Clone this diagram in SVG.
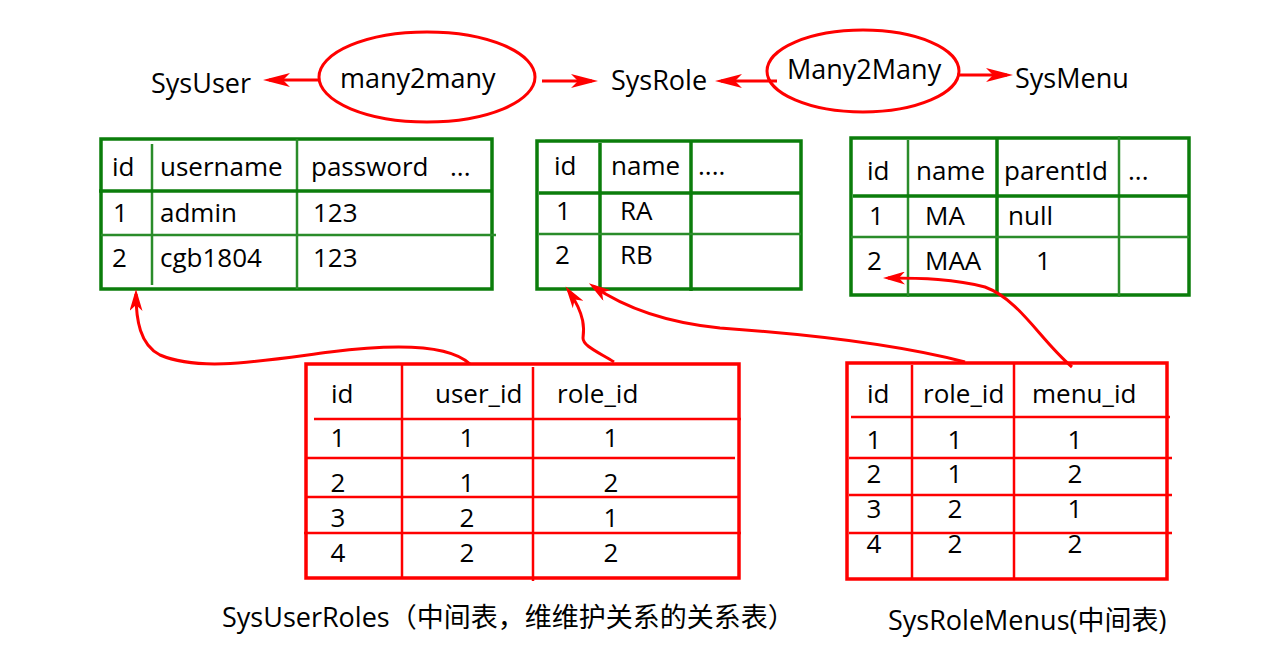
<svg xmlns="http://www.w3.org/2000/svg" width="1288" height="659" viewBox="0 0 1288 659">
<style>
text{font-family:"Open Sans","Noto Sans CJK SC",sans-serif;fill:#000}
.t{font-size:26px}
.lbl{font-size:27px}
.c{text-anchor:middle}
.gout{fill:none;stroke:#0b7d0b;stroke-width:3.5}
.gin{fill:none;stroke:#2a8c2a;stroke-width:2.5}
.rout{fill:none;stroke:#ff0000;stroke-width:3.5}
.rin{fill:none;stroke:#ff0000;stroke-width:2.5}
.ell{fill:none;stroke:#ff0000;stroke-width:3}
.con{fill:none;stroke:#ff0000;stroke-width:3}
</style>
<defs>
<marker id="ah" markerUnits="userSpaceOnUse" markerWidth="27" markerHeight="14" viewBox="0 0 27 14" refX="21" refY="7" orient="auto"><path d="M0,0 L27,7 L0,14 L7,7 z" fill="#ff0000"/></marker>
<marker id="ahs" markerUnits="userSpaceOnUse" markerWidth="22" markerHeight="13" viewBox="0 0 22 13" refX="17" refY="6.5" orient="auto"><path d="M0,0 L22,6.5 L0,13 L6,6.5 z" fill="#ff0000"/></marker>
</defs>
<rect width="1288" height="659" fill="#fff"/>

<g id="sysuser"><text class="lbl" x="151" y="93">SysUser</text></g>
<g id="many2many-1"><ellipse class="ell" cx="427" cy="77" rx="108" ry="45"/><text class="lbl" x="340" y="88">many2many</text></g>
<g id="sysrole"><text class="lbl" x="611" y="90">SysRole</text></g>
<g id="many2many-2"><ellipse class="ell" cx="863" cy="71" rx="96" ry="41"/><text class="lbl" x="787" y="79">Many2Many</text></g>
<g id="sysmenu"><text class="lbl" x="1015" y="88">SysMenu</text></g>

<g id="table-sysuser">
<rect class="gout" x="101" y="139" width="391" height="150"/>
<line class="gin" x1="152" y1="144" x2="152" y2="285"/>
<line class="gin" x1="297" y1="139" x2="297" y2="289"/>
<line class="gout" x1="99" y1="191" x2="492" y2="191"/>
<line class="gin" x1="101" y1="235" x2="496" y2="235"/>
<text class="t" x="112" y="176">id</text>
<text class="t" x="160" y="176">username</text>
<text class="t" x="311" y="176">password</text>
<text class="t" x="450" y="176">...</text>
<text class="t" x="113" y="222">1</text>
<text class="t" x="160" y="222">admin</text>
<text class="t" x="313" y="222">123</text>
<text class="t" x="112" y="267">2</text>
<text class="t" x="160" y="267">cgb1804</text>
<text class="t" x="313" y="267">123</text>
</g>

<g id="table-sysrole">
<rect class="gout" x="537" y="141" width="264" height="148"/>
<line class="gout" x1="600" y1="143" x2="600" y2="289"/>
<line class="gout" x1="691" y1="141" x2="691" y2="291"/>
<line class="gout" x1="539" y1="193" x2="801" y2="193"/>
<line class="gin" x1="539" y1="234" x2="801" y2="234"/>
<text class="t" x="554" y="175">id</text>
<text class="t" x="611" y="175">name</text>
<text class="t" x="698" y="175">....</text>
<text class="t" x="556" y="220">1</text>
<text class="t" x="620" y="220">RA</text>
<text class="t" x="555" y="264">2</text>
<text class="t" x="620" y="264">RB</text>
</g>

<g id="table-sysmenu">
<rect class="gout" x="851" y="138" width="338" height="157"/>
<line class="gin" x1="908" y1="140" x2="908" y2="297"/>
<line class="gout" x1="997" y1="138" x2="997" y2="295"/>
<line class="gin" x1="1119" y1="136" x2="1119" y2="297"/>
<line class="gout" x1="853" y1="196" x2="1189" y2="196"/>
<line class="gin" x1="851" y1="237" x2="1189" y2="237"/>
<text class="t" x="867" y="180">id</text>
<text class="t" x="916" y="180">name</text>
<text class="t" x="1004" y="180">parentId</text>
<text class="t" x="1128" y="180">...</text>
<text class="t" x="869" y="225">1</text>
<text class="t" x="925" y="225">MA</text>
<text class="t" x="1008" y="225">null</text>
<text class="t" x="867" y="270">2</text>
<text class="t" x="925" y="270">MAA</text>
<text class="t" x="1036" y="270">1</text>
</g>

<g id="table-sysuserroles">
<rect class="rout" x="306" y="364" width="433" height="214"/>
<line class="rin" x1="402" y1="364" x2="402" y2="578"/>
<line class="rin" x1="533" y1="367" x2="533" y2="581"/>
<line class="rin" x1="314" y1="419" x2="741" y2="419"/>
<line class="rin" x1="307" y1="458" x2="735" y2="458"/>
<line class="rin" x1="306" y1="497" x2="739" y2="497"/>
<line class="rin" x1="304" y1="533" x2="741" y2="533"/>
<text class="t" x="331" y="403">id</text>
<text class="t" x="435" y="403">user_id</text>
<text class="t" x="557" y="403">role_id</text>
<text class="t c" x="338" y="447">1</text><text class="t c" x="467" y="447">1</text><text class="t c" x="611" y="447">1</text>
<text class="t c" x="338" y="492">2</text><text class="t c" x="467" y="492">1</text><text class="t c" x="611" y="492">2</text>
<text class="t c" x="338" y="527">3</text><text class="t c" x="467" y="527">2</text><text class="t c" x="611" y="527">1</text>
<text class="t c" x="338" y="562">4</text><text class="t c" x="467" y="562">2</text><text class="t c" x="611" y="562">2</text>
</g>

<g id="table-sysrolemenus">
<rect class="rout" x="847" y="363" width="320" height="216"/>
<line class="rin" x1="912" y1="365" x2="912" y2="579"/>
<line class="rin" x1="1014" y1="363" x2="1014" y2="579"/>
<line class="rin" x1="851" y1="417" x2="1170" y2="417"/>
<line class="rin" x1="849" y1="458" x2="1172" y2="458"/>
<line class="rin" x1="849" y1="495" x2="1172" y2="495"/>
<line class="rin" x1="849" y1="533" x2="1172" y2="533"/>
<text class="t" x="867" y="403">id</text>
<text class="t" x="923" y="403">role_id</text>
<text class="t" x="1032" y="403">menu_id</text>
<text class="t c" x="874" y="449">1</text><text class="t c" x="955" y="449">1</text><text class="t c" x="1075" y="449">1</text>
<text class="t c" x="874" y="483">2</text><text class="t c" x="955" y="483">1</text><text class="t c" x="1075" y="483">2</text>
<text class="t c" x="874" y="518">3</text><text class="t c" x="955" y="518">2</text><text class="t c" x="1075" y="518">1</text>
<text class="t c" x="874" y="553">4</text><text class="t c" x="955" y="553">2</text><text class="t c" x="1075" y="553">2</text>
</g>

<g id="label-sysuserroles"><text class="lbl" x="222" y="627">SysUserRoles（中间表，维维护关系的关系表）</text></g>
<g id="label-sysrolemenus"><text class="lbl" x="888" y="630">SysRoleMenus(中间表)</text></g>

<g id="connectors">
<path class="con" d="M319,80 L269,80" marker-end="url(#ah)"/>
<path class="con" d="M542,81 L592,81" marker-end="url(#ah)"/>
<path class="con" d="M777,81 L721,81" marker-end="url(#ah)"/>
<path class="con" d="M957,75 L1007,75" marker-end="url(#ah)"/>
<path class="con" d="M470,364 C450,345 400,343 330,352 C260,361 200,372 160,355 C140,345 136,320 136,294" marker-end="url(#ahs)"/>
<path class="con" d="M614,362 C598,352 583,346 583,338 C584,330 586,316 568.5,290.5" marker-end="url(#ahs)"/>
<path class="con" d="M965,362 C900,345 820,335 720,328 C660,322 622,306 593,286" marker-end="url(#ahs)"/>
<path class="con" d="M1072,367 C1040,340 1020,300 985,287 C955,279 922,278 888,278" marker-end="url(#ahs)"/>
</g>
</svg>
